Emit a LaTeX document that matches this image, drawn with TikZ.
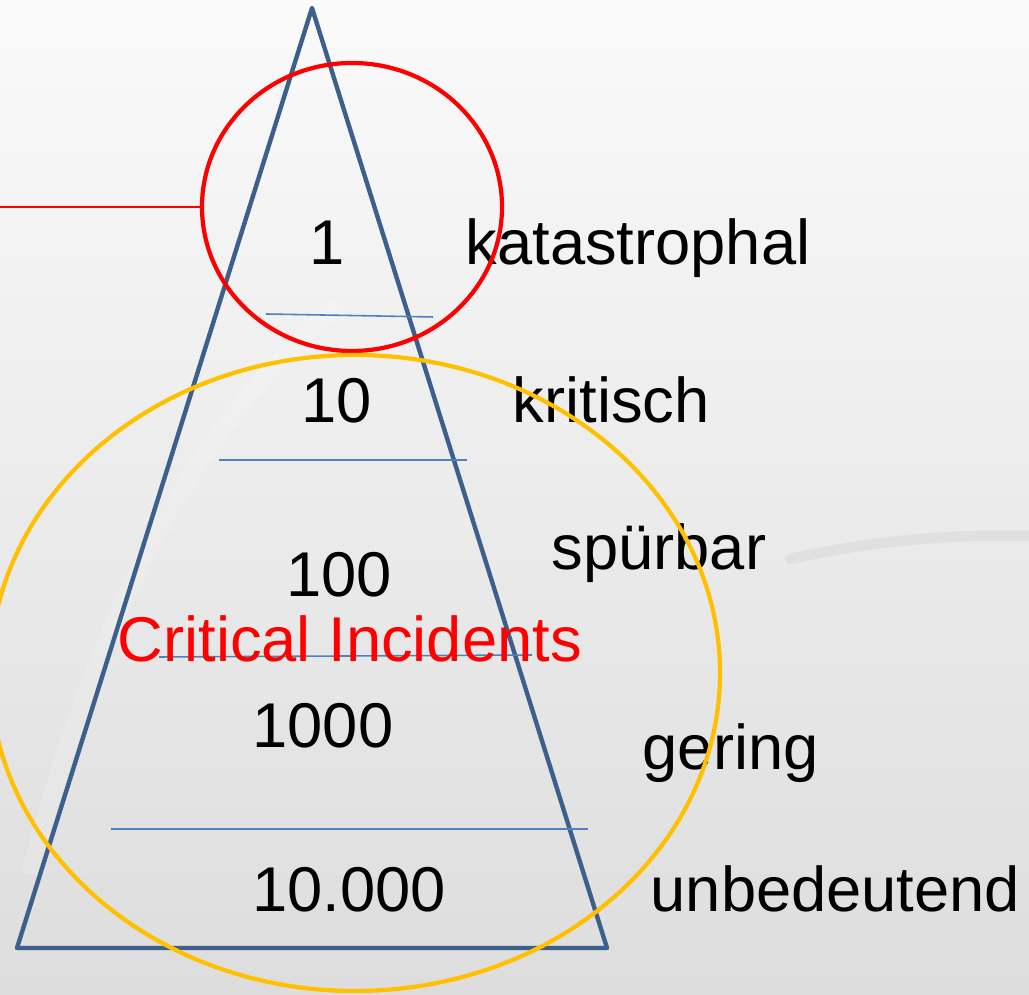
\documentclass[tikz,border=0pt]{standalone}
\usepackage{fontspec}
\setmainfont{Liberation Sans}
\usepackage{tikz}
\usetikzlibrary{shapes.geometric,positioning}
\usepackage{xcolor}
\definecolor{pyrblue}{HTML}{3D5F8C}
\definecolor{rowblue}{HTML}{4F81BD}
\definecolor{ringred}{HTML}{FF0000}
\definecolor{ringgold}{HTML}{FFC000}
\definecolor{slidetop}{HTML}{FAFAFA}
\definecolor{slidebot}{HTML}{DDDDDD}

\begin{document}
\begin{tikzpicture}[
  every node/.style={inner sep=0pt,font=\fontsize{18}{20}\selectfont},
  count/.style={anchor=base},
  level/.style={anchor=base west},
  row/.style={rowblue,line width=0.45pt}]
  % Background
  \shade[top color=slidetop,bottom color=slidebot] (0,0) rectangle (10.29,9.94);
  \useasboundingbox (0,0) rectangle (10.29,9.94);
  \draw[gray!40,line width=3pt,opacity=0.3,line cap=round] (7.9,4.35) .. controls (8.8,4.55) and (9.6,4.6) .. (10.29,4.58);
  \draw[white,line width=5pt,opacity=0.15] (0.3,1.2) .. controls (0.9,3.5) and (1.8,5.6) .. (3.4,6.9);
  % Pyramid
  \draw[pyrblue,line width=1.25pt,line join=round] (3.12,9.86) -- (6.07,0.46) -- (0.17,0.46) -- cycle;
  % Rows
  \draw[row] (2.66,6.80) -- (4.33,6.77);
  \draw[row] (2.19,5.34) -- (4.67,5.34);
  \draw[row] (1.59,3.37) -- (5.32,3.39);
  \draw[row] (1.11,1.65) -- (5.88,1.65);
  % Counts
  \node[count] (n1) at (3.27,7.29) {1};
  \node[count] (n10) at (3.37,5.71) {10};
  \node[count] (n100) at (3.39,3.97) {100};
  \node[count] (n1000) at (3.23,2.46) {1000};
  \node[count] (n10000) at (3.49,0.82) {10.000};
  % Severity
  \node[level] (katas) at (4.65,7.29) {katastrophal};
  \node[level] (krit) at (5.12,5.71) {kritisch};
  \node[level] (spuer) at (5.51,4.24) {spürbar};
  \node[level] (ger) at (6.42,2.24) {gering};
  \node[level] (unbed) at (6.50,0.82) {unbedeutend};
  \node[level,ringred] (crit) at (1.17,3.32) {Critical Incidents};
  % Rings
  \node[ellipse,draw=ringred,line width=1.2pt,minimum width=3.0cm,minimum height=2.88cm] (topring) at (3.52,7.87) {};
  \node[ellipse,draw=ringgold,line width=1.2pt,minimum width=7.3cm,minimum height=6.36cm] (lowring) at (3.55,3.21) {};
  \coordinate (edge) at (0,7.87);
  \draw[ringred,line width=0.75pt] (edge) -- (topring.west);
\end{tikzpicture}
\end{document}
